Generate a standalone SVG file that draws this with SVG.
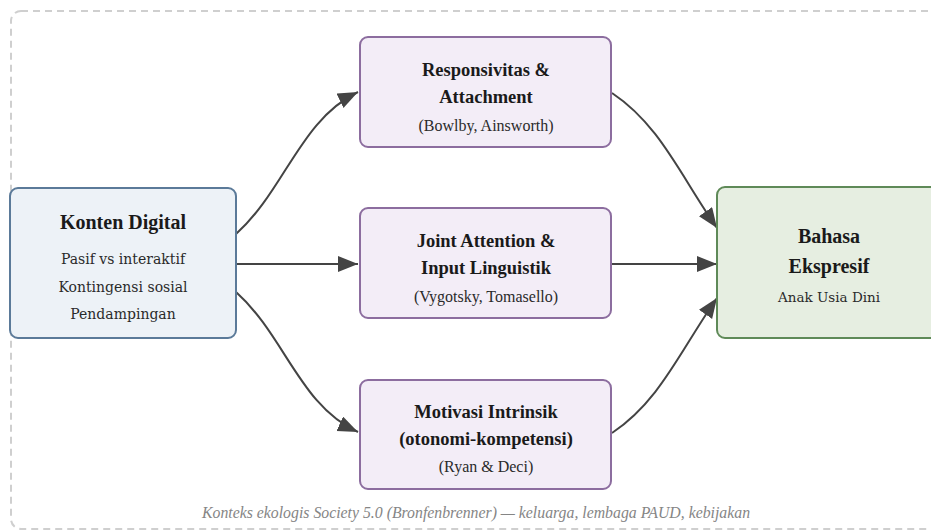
<svg xmlns="http://www.w3.org/2000/svg" width="931" height="531" viewBox="0 0 931 531">
<style>
.frame{fill:none;stroke:#cfcfcf;stroke-width:2;stroke-dasharray:7 5}
.src{fill:#edf2f7;stroke:#5b7a99;stroke-width:2}
.mid{fill:#f3edf7;stroke:#8c6d9f;stroke-width:2}
.dst{fill:#e6eee1;stroke:#5f8a58;stroke-width:2}
.t{font-family:"Liberation Serif",serif;font-weight:bold;fill:#1a1a1a;text-anchor:middle}
.s{font-family:"DejaVu Serif",serif;fill:#2a2a2a;text-anchor:middle}
.c{font-family:"Liberation Serif",serif;fill:#2a2a2a;text-anchor:middle}
.cap{font-family:"Liberation Serif",serif;font-style:italic;fill:#858585;text-anchor:middle}
.e{fill:none;stroke:#444;stroke-width:2;marker-end:url(#ah)}
</style>
<defs>
<marker id="ah" markerUnits="userSpaceOnUse" markerWidth="22" markerHeight="18" refX="20" refY="8" orient="auto">
<path d="M0,0 L20,8 L0,16 z" fill="#444"/>
</marker>
</defs>
<rect class="frame" x="11" y="11" width="940" height="518" rx="10"/>
<g id="connectors">
<path class="e" d="M236,234 C 285,190 300,120 358,92"/>
<path class="e" d="M236,264 L358,264"/>
<path class="e" d="M236,292 C 285,336 300,406 358,432"/>
<path class="e" d="M612,93 C 660,125 680,175 717,228"/>
<path class="e" d="M612,264 L717,264"/>
<path class="e" d="M612,433 C 660,401 680,351 717,298"/>
</g>
<g id="konten">
<rect class="src" x="10" y="188" width="226" height="150" rx="8"/>
<text class="t" x="123" y="229" font-size="20">Konten Digital</text>
<text class="s" x="123" y="264" font-size="14">Pasif vs interaktif</text>
<text class="s" x="123" y="292" font-size="14">Kontingensi sosial</text>
<text class="s" x="123" y="319" font-size="14">Pendampingan</text>
</g>
<g id="responsivitas">
<rect class="mid" x="360" y="37" width="251" height="110" rx="8"/>
<text class="t" x="486" y="76" font-size="18.5">Responsivitas &amp;</text>
<text class="t" x="486" y="103" font-size="18.5">Attachment</text>
<text class="c" x="486" y="131" font-size="16">(Bowlby, Ainsworth)</text>
</g>
<g id="joint">
<rect class="mid" x="360" y="208" width="251" height="110" rx="8"/>
<text class="t" x="486" y="247" font-size="18.5">Joint Attention &amp;</text>
<text class="t" x="486" y="274" font-size="18.5">Input Linguistik</text>
<text class="c" x="486" y="302" font-size="16">(Vygotsky, Tomasello)</text>
</g>
<g id="motivasi">
<rect class="mid" x="360" y="380" width="251" height="109" rx="8"/>
<text class="t" x="486" y="418" font-size="18.5">Motivasi Intrinsik</text>
<text class="t" x="486" y="445" font-size="18.5">(otonomi-kompetensi)</text>
<text class="c" x="486" y="472" font-size="16">(Ryan &amp; Deci)</text>
</g>
<g id="bahasa">
<rect class="dst" x="717" y="187" width="224" height="151" rx="8"/>
<text class="t" x="829" y="243" font-size="20">Bahasa</text>
<text class="t" x="829" y="273" font-size="20">Ekspresif</text>
<text class="s" x="829" y="302" font-size="13.5">Anak Usia Dini</text>
</g>
<text class="cap" x="476" y="518" font-size="15.8">Konteks ekologis Society 5.0 (Bronfenbrenner) — keluarga, lembaga PAUD, kebijakan</text>
</svg>
